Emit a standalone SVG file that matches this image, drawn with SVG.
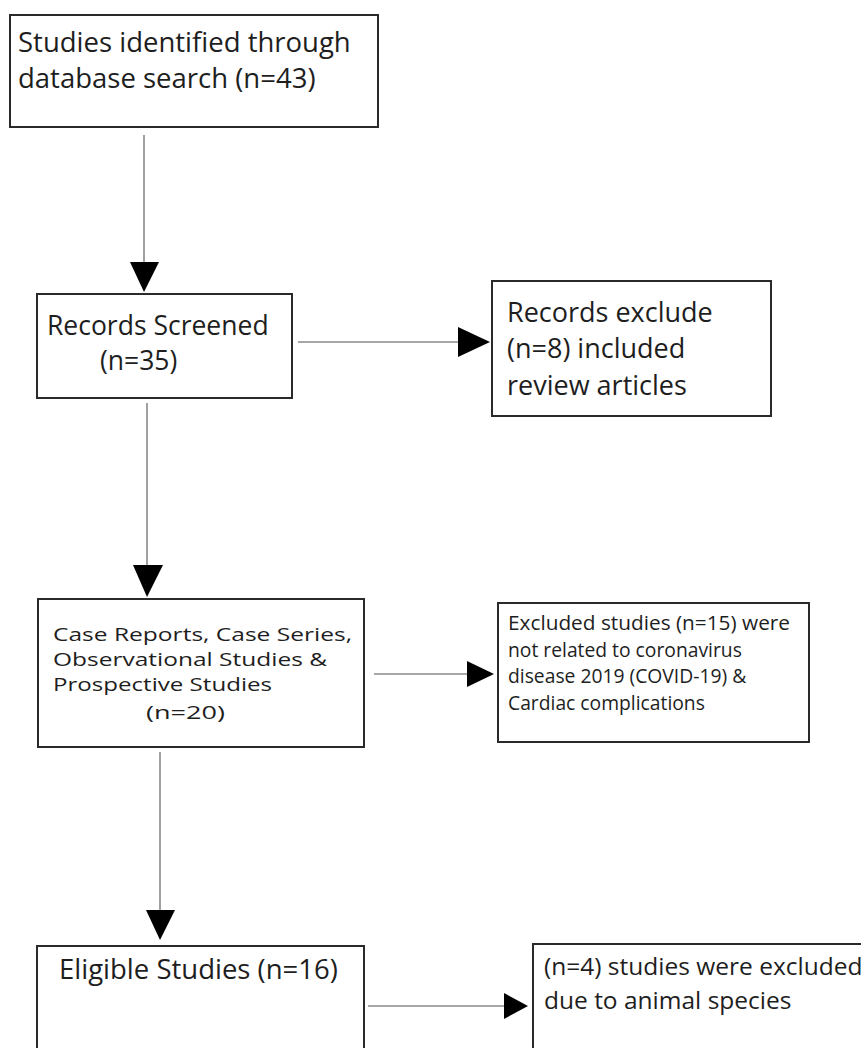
<svg xmlns="http://www.w3.org/2000/svg" width="861" height="1048" viewBox="0 0 861 1048">
<style>
.box{fill:#fff;stroke:#2a2a2a;stroke-width:2}
.t{font-family:"Open Sans","Noto Sans",sans-serif;fill:#1e1e1e}
.l{stroke:#8a8a8a;stroke-width:1.6;fill:none}
.h{fill:#000}
</style>
<rect width="861" height="1048" fill="#fff"/>
<g id="connectors">
<line class="l" x1="144" y1="135" x2="144" y2="263"/>
<polygon class="h" points="130,262 159,262 144,292"/>
<line class="l" x1="298" y1="342" x2="459" y2="342"/>
<polygon class="h" points="458,327 458,357 490,342"/>
<line class="l" x1="147" y1="403" x2="147" y2="566"/>
<polygon class="h" points="133,565 163,565 147,597"/>
<line class="l" x1="374" y1="674" x2="468" y2="674"/>
<polygon class="h" points="467,661 467,687 494,674"/>
<line class="l" x1="160" y1="752" x2="160" y2="911"/>
<polygon class="h" points="146,910 175,910 160,940"/>
<line class="l" x1="368" y1="1006" x2="505" y2="1006"/>
<polygon class="h" points="504,993 504,1019 528,1006"/>
</g>
<g id="n1">
<rect class="box" x="10" y="15" width="368" height="112"/>
<text class="t" font-size="27.5" x="18" y="52">Studies identified through</text>
<text class="t" font-size="27.5" x="18" y="88">database search (n=43)</text>
</g>
<g id="n2">
<rect class="box" x="37" y="294" width="255" height="104"/>
<text class="t" font-size="26.5" x="47" y="335">Records Screened</text>
<text class="t" font-size="26.5" x="100" y="370">(n=35)</text>
</g>
<g id="n3">
<rect class="box" x="492" y="281" width="279" height="135"/>
<text class="t" font-size="27" x="507" y="322">Records exclude</text>
<text class="t" font-size="27" x="507" y="358">(n=8) included</text>
<text class="t" font-size="27" x="507" y="395">review articles</text>
</g>
<g id="n4">
<rect class="box" x="38" y="599" width="326" height="148"/>
<text class="t" font-size="18.3" x="53" y="641" textLength="299" lengthAdjust="spacingAndGlyphs">Case Reports, Case Series,</text>
<text class="t" font-size="18.3" x="53" y="666" textLength="274" lengthAdjust="spacingAndGlyphs">Observational Studies &amp;</text>
<text class="t" font-size="18.3" x="53" y="691" textLength="219" lengthAdjust="spacingAndGlyphs">Prospective Studies</text>
<text class="t" font-size="18.3" x="146" y="719" textLength="79" lengthAdjust="spacingAndGlyphs">(n=20)</text>
</g>
<g id="n5">
<rect class="box" x="498" y="603" width="311" height="139"/>
<text class="t" font-size="19.3" x="508" y="630" textLength="282" lengthAdjust="spacingAndGlyphs">Excluded studies (n=15) were</text>
<text class="t" font-size="19.3" x="508" y="656.5">not related to coronavirus</text>
<text class="t" font-size="19.3" x="508" y="683">disease 2019 (COVID-19) &amp;</text>
<text class="t" font-size="19.3" x="508" y="709.5">Cardiac complications</text>
</g>
<g id="n6">
<rect class="box" x="37" y="946" width="327" height="120"/>
<text class="t" font-size="27.5" x="59" y="979">Eligible Studies (n=16)</text>
</g>
<g id="n7">
<rect class="box" x="533" y="944" width="340" height="120"/>
<text class="t" font-size="24.5" x="544" y="975">(n=4) studies were excluded</text>
<text class="t" font-size="24.5" x="544" y="1009">due to animal species</text>
</g>
</svg>
